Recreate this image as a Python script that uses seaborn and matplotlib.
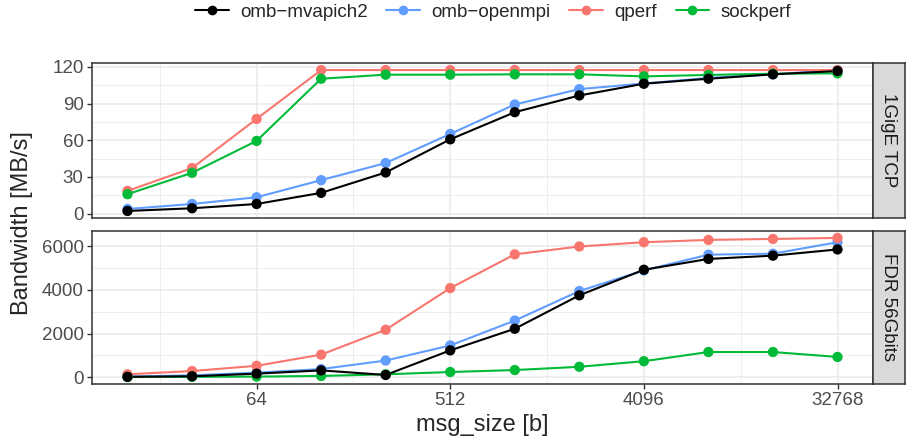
import numpy as np
import pandas as pd
import matplotlib
matplotlib.use("Agg")
import matplotlib.pyplot as plt
from matplotlib.lines import Line2D
from matplotlib.ticker import NullFormatter
import seaborn as sns

sns.set_style("white")
plt.rcParams["font.family"] = ["Liberation Sans", "DejaVu Sans"]

# Values
msg_size = [16, 32, 64, 128, 256, 512, 1024, 2048, 4096, 8192, 16384, 32768]
benchmarks = ["omb−mvapich2", "omb−openmpi", "qperf", "sockperf"]
networks = ["1GigE TCP", "FDR 56Gbits"]

gige_mvapich2 = [2.2, 4.4, 7.9, 17, 33.7, 60.8, 83, 96.7, 106.3, 110.4, 114, 116.7]
gige_openmpi = [3.8, 7.9, 13.4, 27.4, 41.4, 65.2, 89.3, 101.9, 106.5, 111, 114, 117.5]
gige_qperf = [18.6, 37.3, 77.5, 117.5, 117.5, 117.5, 117.5, 117.5, 117.5, 117.5, 117.5, 117.5]
gige_sockperf = [15.9, 33.4, 59.5, 110.4, 113.7, 113.7, 114, 114, 112.3, 113.5, 114.5, 114.8]

fdr_mvapich2 = [20, 45, 165, 315, 105, 1230, 2220, 3750, 4920, 5415, 5565, 5850]
fdr_openmpi = [30, 90, 210, 375, 765, 1455, 2595, 3945, 4890, 5610, 5655, 6180]
fdr_qperf = [135, 285, 525, 1035, 2175, 4080, 5625, 5985, 6180, 6285, 6330, 6375]
fdr_sockperf = [10, 20, 30, 60, 135, 240, 330, 480, 735, 1155, 1155, 930]

palette = {"omb−mvapich2": "black", "omb−openmpi": "#619CFF",
           "qperf": "#F8766D", "sockperf": "#00BA38"}
draw_order = ["omb−openmpi", "qperf", "sockperf", "omb−mvapich2"]

series = {
    "1GigE TCP": [gige_mvapich2, gige_openmpi, gige_qperf, gige_sockperf],
    "FDR 56Gbits": [fdr_mvapich2, fdr_openmpi, fdr_qperf, fdr_sockperf],
}
rows = []
for net in networks:
    for bench, vals in zip(benchmarks, series[net]):
        for m, v in zip(msg_size, vals):
            rows.append({"network": net, "benchmark": bench, "msg_size": m, "bandwidth": v})
df = pd.DataFrame(rows)

W, H = 907, 444
fig = plt.figure(figsize=(W / 100, H / 100), dpi=100)

panels = {"1GigE TCP": (63, 218), "FDR 56Gbits": (231, 384)}
yticks = {"1GigE TCP": ([0, 30, 60, 90, 120], [15, 45, 75, 105]),
          "FDR 56Gbits": ([0, 2000, 4000, 6000], [1000, 3000, 5000])}
left, right = 92, 873
xmajor = [64, 512, 4096, 32768]
xminor = [2 ** 4.5, 2 ** 7.5, 2 ** 10.5, 2 ** 13.5]

for net in networks:
    top, bot = panels[net]
    ax = fig.add_axes([left / W, 1 - bot / H, (right - left) / W, (bot - top) / H])
    sub = df[df["network"] == net].copy()
    sub["order"] = sub["benchmark"].map({b: i for i, b in enumerate(draw_order)})
    sub = sub.sort_values(["order", "msg_size"])

    sns.lineplot(data=sub, x="msg_size", y="bandwidth", hue="benchmark",
                 hue_order=draw_order, palette=palette, linewidth=1.5,
                 legend=False, ax=ax, zorder=3)
    sns.scatterplot(data=sub, x="msg_size", y="bandwidth", hue="benchmark",
                    hue_order=draw_order, palette=palette, s=55, linewidth=0,
                    legend=False, ax=ax, zorder=4)

    ax.set_xscale("log", base=2)
    ax.margins(x=0.05, y=0.05)
    ax.set_xticks(xmajor)
    ax.set_xticks(xminor, minor=True)
    ax.xaxis.set_minor_formatter(NullFormatter())
    ax.set_yticks(yticks[net][0])
    ax.set_yticks(yticks[net][1], minor=True)
    ax.yaxis.set_minor_formatter(NullFormatter())
    ax.set_yticklabels([str(t) for t in yticks[net][0]])
    last = net == networks[-1]
    if last:
        ax.set_xticklabels([str(t) for t in xmajor])
    else:
        ax.set_xticklabels([])
    ax.grid(which="major", color="#EBEBEB", linewidth=1.2, zorder=0)
    ax.grid(which="minor", color="#EBEBEB", linewidth=0.6, zorder=0)
    ax.set_axisbelow(True)
    ax.tick_params(which="major", left=True, bottom=last, length=3.5, width=1,
                   color="#333333", labelsize=13.5, labelcolor="#4D4D4D", pad=2.5)
    ax.tick_params(which="minor", length=0)
    for s in ax.spines.values():
        s.set_color("#333333")
        s.set_linewidth(1.1)
    ax.set_xlabel("")
    ax.set_ylabel("")

    # facet strip
    sax = fig.add_axes([right / W, 1 - bot / H, 32 / W, (bot - top) / H])
    sax.set_facecolor("#D9D9D9")
    sax.set_xticks([])
    sax.set_yticks([])
    for s in sax.spines.values():
        s.set_color("#333333")
        s.set_linewidth(1.1)
    sax.text(0.5, 0.5, net, rotation=-90, ha="center", va="center",
             fontsize=13.5, color="#1A1A1A", transform=sax.transAxes)

fig.text(22 / W, 1 - 223 / H, "Bandwidth [MB/s]", rotation=90, ha="center",
         va="center", fontsize=17)
fig.text((left + right) / 2 / W, 1 - 425 / H, "msg_size [b]", ha="center",
         va="center", fontsize=17)

handles = [Line2D([0], [0], color=palette[b], marker="o", markersize=7,
                  markeredgewidth=0, linewidth=1.5) for b in benchmarks]
fig.legend(handles, benchmarks, loc="center", bbox_to_anchor=(493 / W, 1 - 12 / H),
           ncol=4, frameon=False, fontsize=13.5, handlelength=1.8,
           handletextpad=0.6, columnspacing=1.0)

fig.savefig("out.png", dpi=100)
